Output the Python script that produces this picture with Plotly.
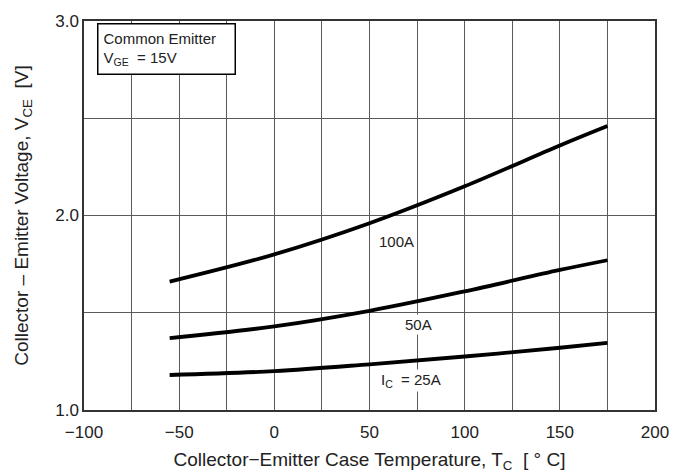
import plotly.graph_objects as go

# Case temperature (°C) and collector-emitter saturation voltage (V)
temp_100a = [-55, 0, 50, 100, 150, 175]
vce_100a = [1.66, 1.80, 1.96, 2.15, 2.36, 2.46]

temp_50a = [-55, 0, 50, 100, 150, 175]
vce_50a = [1.37, 1.43, 1.51, 1.61, 1.72, 1.77]

temp_25a = [-55, 0, 50, 100, 150, 175]
vce_25a = [1.18, 1.20, 1.235, 1.275, 1.32, 1.345]

x_ticks = [-100, -50, 0, 50, 100, 150, 200]
x_tick_text = ["−100", "−50", "0", "50", "100", "150", "200"]
y_ticks = [1.0, 2.0, 3.0]
y_tick_text = ["1.0", "2.0", "3.0"]

FONT = "Liberation Sans, Arial, sans-serif"
GRID = "#5a5a5a"

fig = go.Figure()
for t, v in [(temp_100a, vce_100a), (temp_50a, vce_50a), (temp_25a, vce_25a)]:
    fig.add_trace(go.Scatter(
        x=t, y=v, mode="lines",
        line=dict(color="black", width=3.8, shape="spline", smoothing=1.0),
        showlegend=False, hoverinfo="skip",
    ))

curve_labels = [
    (64, 1.865, "100A"),
    (76, 1.44, "50A"),
    (72, 1.15, "I<sub>C</sub>  = 25A"),
]
for x, y, txt in curve_labels:
    fig.add_annotation(x=x, y=y, text=txt, showarrow=False, bgcolor="white",
                       font=dict(family=FONT, size=15, color="#222"), borderpad=1)

fig.add_annotation(
    xref="paper", yref="paper", x=0.023, y=0.995, xanchor="left", yanchor="top",
    text="Common Emitter<br>V<sub>GE</sub>  = 15V", align="left", showarrow=False,
    bgcolor="white", bordercolor="black", borderwidth=1.5, borderpad=5,
    font=dict(family=FONT, size=15, color="#222"), width=126,
)

fig.update_layout(
    width=681, height=476,
    margin=dict(l=84, r=26, t=17, b=66),
    paper_bgcolor="white", plot_bgcolor="white",
    font=dict(family=FONT, size=17, color="#222"),
    xaxis=dict(
        range=[-100, 200], tickvals=x_ticks, ticktext=x_tick_text,
        showgrid=True, gridcolor=GRID, gridwidth=1, zeroline=False,
        minor=dict(dtick=25, tick0=-100, showgrid=True, gridcolor=GRID, gridwidth=1),
        showline=True, linecolor="#333", linewidth=1.5, mirror=True, ticks="",
        ticklabelstandoff=6, automargin=False,
        title=dict(text="Collector−Emitter Case Temperature, T<sub>C</sub>  [ ° C]",
                   font=dict(size=19), standoff=12),
    ),
    yaxis=dict(
        range=[1.0, 3.0], tickvals=y_ticks, ticktext=y_tick_text,
        showgrid=True, gridcolor=GRID, gridwidth=1, zeroline=False,
        minor=dict(dtick=0.5, tick0=1.0, showgrid=True, gridcolor=GRID, gridwidth=1),
        showline=True, linecolor="#333", linewidth=1.5, mirror=True, ticks="",
        title=dict(text="Collector – Emitter Voltage, V<sub>CE</sub>  [V]",
                   font=dict(size=19), standoff=22),
    ),
)

fig.write_html("out.html")
